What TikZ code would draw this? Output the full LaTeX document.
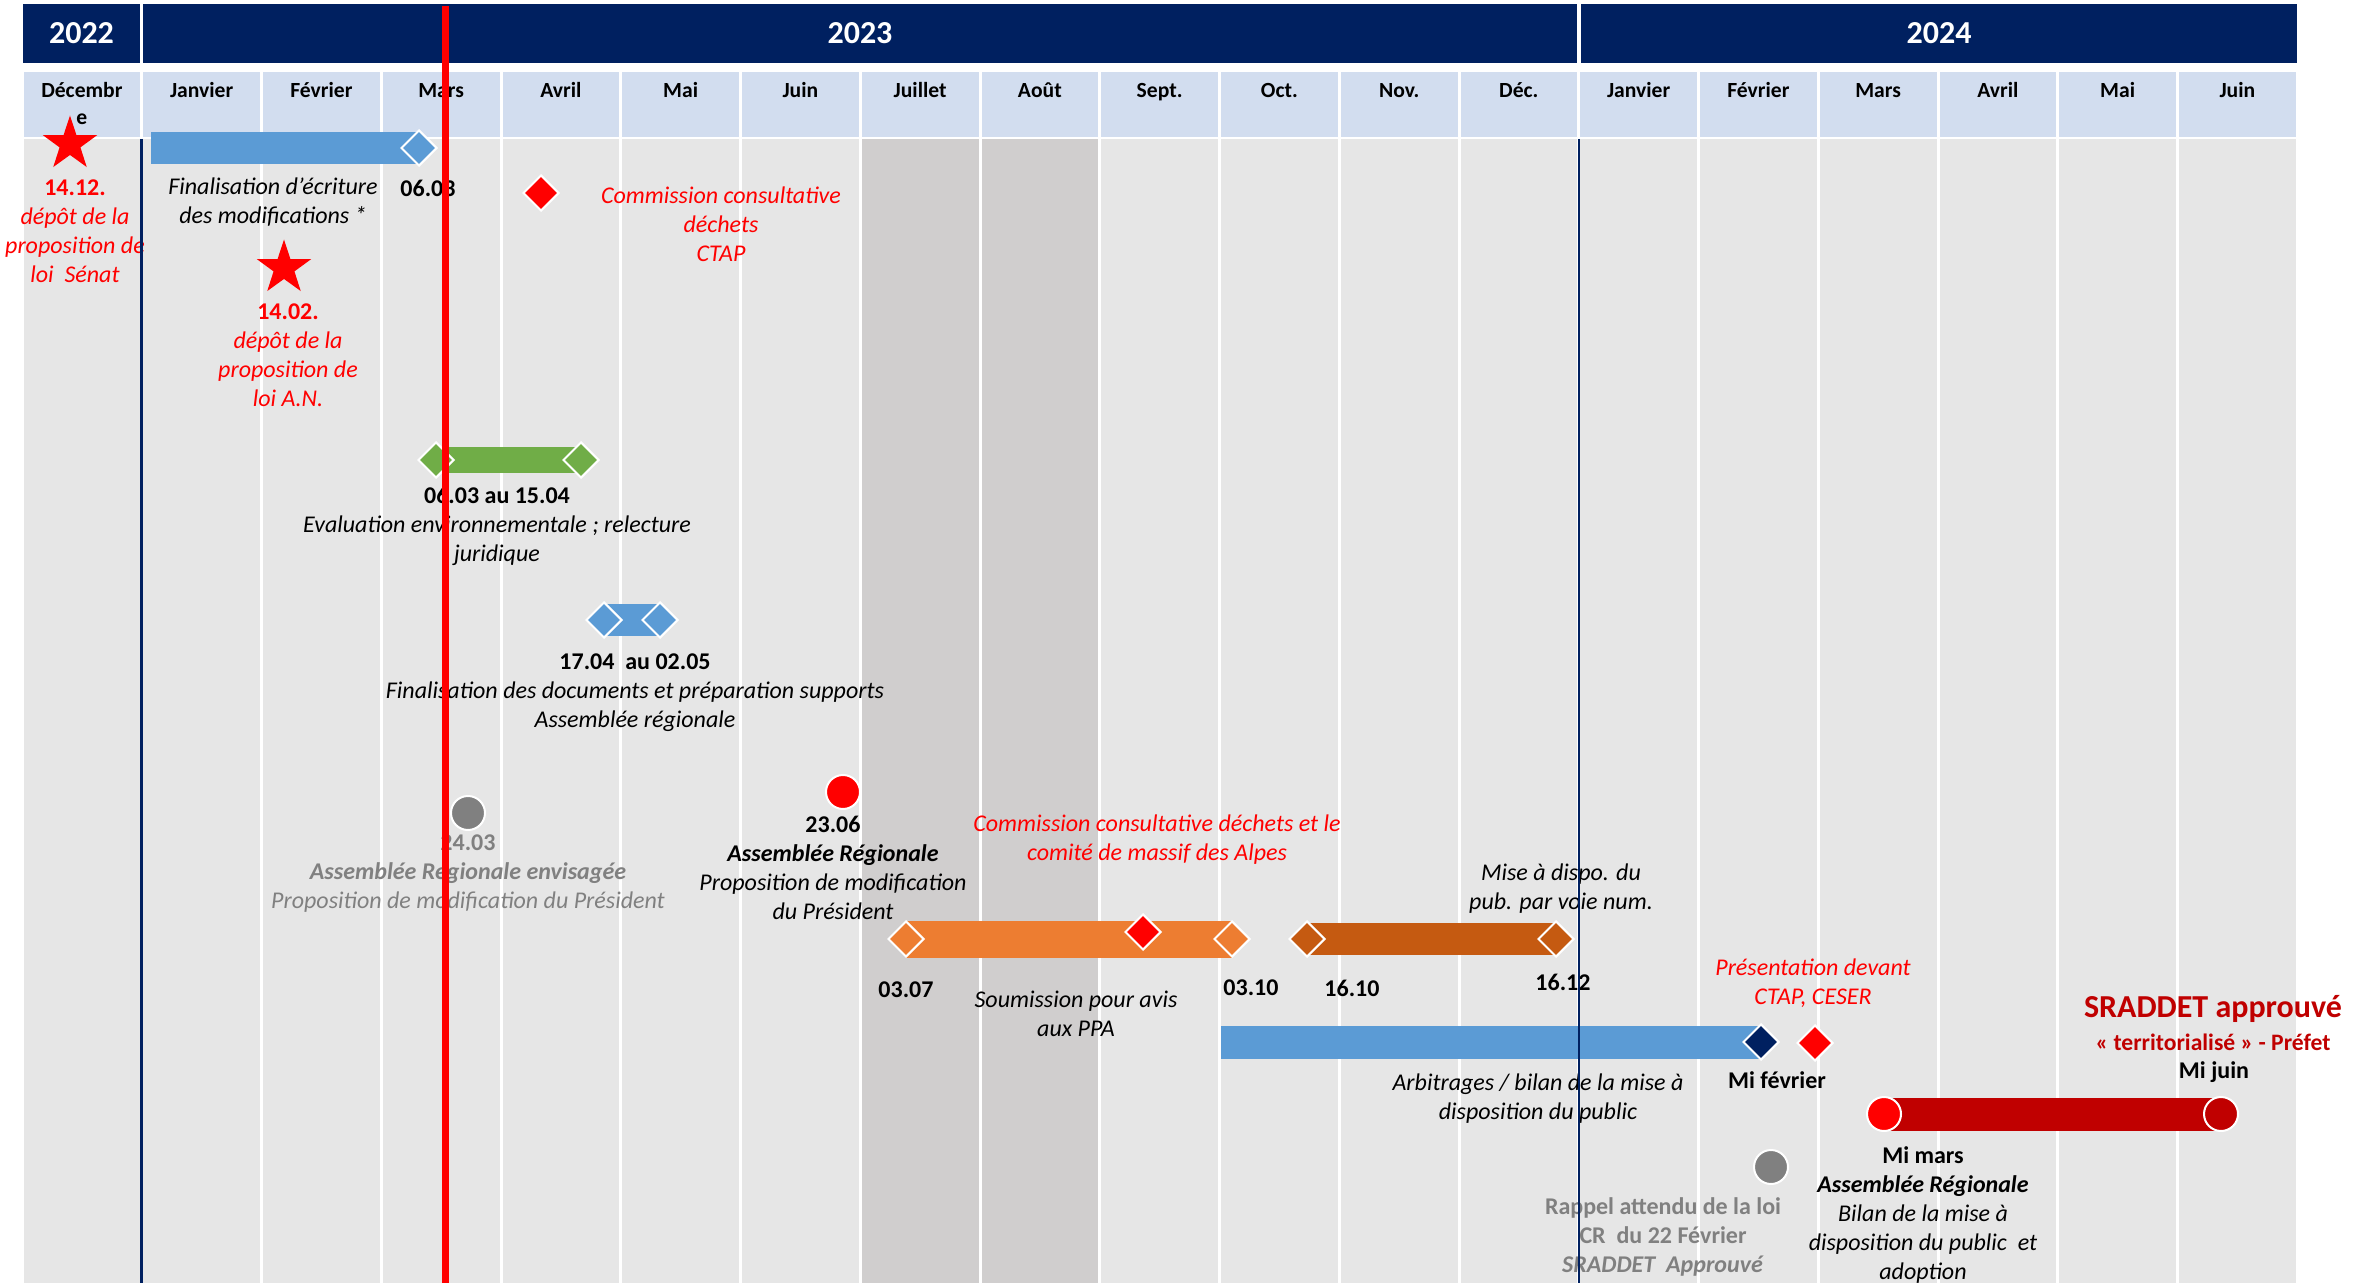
\documentclass[tikz,border=0pt]{standalone}
\usepackage{fontspec}
\setmainfont{Carlito}
\usetikzlibrary{shapes.geometric}

\definecolor{navy}{HTML}{002060}
\definecolor{monthblue}{HTML}{D2DDEF}
\definecolor{cellgray}{HTML}{E6E6E6}
\definecolor{summergray}{HTML}{D0CECE}
\definecolor{barblue}{HTML}{5B9BD5}
\definecolor{bargreen}{HTML}{70AD47}
\definecolor{barorange}{HTML}{ED7D31}
\definecolor{darkorange}{HTML}{C55A11}
\definecolor{darkred}{HTML}{C00000}
\definecolor{txtgray}{HTML}{808080}

\pgfdeclarelayer{grid}
\pgfdeclarelayer{bars}
\pgfdeclarelayer{front}
\pgfsetlayers{grid,bars,main,front}

\def\xo{22}
\def\colw{119.75}

\tikzset{
  evlabel/.style={align=center, inner sep=0pt, font=\fontsize{12}{14.5}\selectfont},
  evdate/.style={evlabel, font=\fontsize{12}{14.5}\selectfont\bfseries},
  evnote/.style={evlabel, font=\fontsize{12}{14.5}\selectfont\itshape},
  monthlbl/.style={align=center, inner sep=0pt, anchor=base, font=\fontsize{10.8}{13.5}\selectfont\bfseries},
  yearlbl/.style={inner sep=0pt, text=white, font=\fontsize{16}{19}\selectfont\bfseries},
  milestone/.style={diamond, aspect=1, inner sep=0pt, minimum width=18pt, minimum height=18pt, draw=white, line width=1pt},
  evdot/.style={circle, inner sep=0pt, minimum size=17pt, draw=white, line width=1pt},
  redstar/.style={star, star points=5, star point ratio=2.6, minimum size=28.5pt, inner sep=0pt, fill=red},
}

\begin{document}
\begin{tikzpicture}[x=0.5pt, y=-0.5pt]
  \useasboundingbox (0,0) rectangle (2372,1283);
  \begin{pgfonlayer}{grid}
    \fill[navy] (23,4) rectangle (140,63);
    \fill[navy] (143,4) rectangle (1577,63);
    \fill[navy] (1581,4) rectangle (2297,63);
    \foreach \k in {0,...,18} {
      \fill[monthblue] ({\xo+\colw*\k+1.5},72) rectangle ({\xo+\colw*(\k+1)-1.5},137);
      \fill[cellgray] ({\xo+\colw*\k+1.5},139) rectangle ({\xo+\colw*(\k+1)-1.5},1283);
    }
    \foreach \k in {7,8}
      \fill[summergray] ({\xo+\colw*\k+1.5},139) rectangle ({\xo+\colw*(\k+1)-1.5},1283);
  \end{pgfonlayer}

  \node[yearlbl] (y22) at (81.5,33) {2022};
  \node[yearlbl] (y23) at (860,33) {2023};
  \node[yearlbl] (y24) at (1939,33) {2024};
  \node[monthlbl] (m0) at ({\xo+\colw*0.5},125) {Décembr\\e};
  \foreach \m [count=\k from 1] in {Janvier,Février,Mars,Avril,Mai,Juin,Juillet,Août,Sept.,Oct.,Nov.,Déc.,Janvier,Février,Mars,Avril,Mai,Juin}
    \node[monthlbl] (m\k) at ({\xo+\colw*(\k+0.5)},98) {\m};

  \node[redstar] (starS) at (70,144) {};
  \node[evnote, text=red] (starST) at (75,231) {\textup{\bfseries 14.12.}\\dépôt de la\\proposition de\\loi\ \ Sénat};
  \node[redstar] (starAN) at (284,268) {};
  \node[evnote, text=red] (starANT) at (288,355) {\textup{\bfseries 14.02.}\\dépôt de la\\proposition de\\loi A.N.};

  \coordinate (finA) at (151,148);
  \node[milestone, fill=barblue] (finB) at (419,148) {};
  \node[evnote] (finT) at (273,202) {Finalisation d’écriture\\des modifications *};
  \node[evdate] (finD) at (428,188) {06.03};

  \node[milestone, fill=red] (ctap1) at (541,193) {};
  \node[evnote, text=red] (ctap1T) at (721,224) {Commission consultative\\déchets\\CTAP};

  \node[milestone, fill=bargreen] (evalA) at (436,460) {};
  \node[milestone, fill=bargreen] (evalB) at (581,460) {};
  \node[evnote] (evalT) at (497,526) {\textup{\bfseries 06.03 au 15.04}\\Evaluation environnementale ; relecture\\juridique};

  \node[milestone, fill=barblue] (docA) at (604,620) {};
  \node[milestone, fill=barblue] (docB) at (660,620) {};
  \node[evnote] (docT) at (635,693) {\textup{\bfseries 17.04\ \ au 02.05}\\Finalisation des documents et préparation supports\\Assemblée régionale};

  \node[evdot, fill=txtgray] (arOld) at (468,813) {};
  \node[evnote, text=txtgray] (arOldT) at (468,874) {\textup{\bfseries 24.03}\\\textbf{Assemblée Régionale envisagée}\\Proposition de modification du Président};

  \node[evdot, fill=red] (ar) at (843,792) {};
  \node[evnote] (arT) at (833,868) {\textup{\bfseries 23.06}\\\textbf{Assemblée Régionale}\\Proposition de modification\\du Président};

  \node[milestone, fill=barorange] (ppaA) at (906,939) {};
  \node[milestone, fill=red] (ppaM) at (1143,932) {};
  \node[milestone, fill=barorange] (ppaB) at (1232,939) {};
  \node[evdate] (ppaAD) at (906,990) {03.07};
  \node[evdate] (ppaBD) at (1251,988) {03.10};
  \node[evnote] (ppaT) at (1076,1014) {Soumission pour avis\\aux PPA};
  \node[evnote, text=red] (ppaMT) at (1157,840) {Commission consultative déchets et le\\comité de massif des Alpes};

  \node[milestone, fill=darkorange] (pubA) at (1307,939) {};
  \node[milestone, fill=darkorange] (pubB) at (1556,939) {};
  \node[evdate] (pubAD) at (1352,988) {16.10};
  \node[evdate] (pubBD) at (1563,982) {16.12};
  \node[evnote] (pubT) at (1561,889) {Mise à dispo. du\\pub. par voie num.};

  \coordinate (arbA) at (1221,1042);
  \node[milestone, fill=navy] (arbB) at (1761,1042) {};
  \node[milestone, fill=red] (ctap2) at (1815,1043) {};
  \node[evdate] (arbD) at (1777,1080) {Mi février};
  \node[evnote] (arbT) at (1538,1099) {Arbitrages / bilan de la mise à\\disposition du public};
  \node[evnote, text=red] (ctap2T) at (1813,983) {Présentation devant\\CTAP, CESER};

  \node[evdot, fill=txtgray] (loi) at (1771,1167) {};
  \node[evdate, text=txtgray] (loiT) at (1663,1237) {Rappel attendu de la loi\\CR\ \ du 22 Février\\\textit{SRADDET\ \ Approuvé}};

  \node[evdot, fill=red] (apA) at (1884,1114) {};
  \node[evdot, fill=darkred] (apB) at (2221,1114) {};
  \node[evdate] (apBD) at (2214,1072) {Mi juin};
  \node[evnote] (apAT) at (1923,1215) {\textup{\bfseries Mi mars}\\\textbf{Assemblée Régionale}\\Bilan de la mise à\\disposition du public\ \ et\\adoption};
  \node[evlabel, text=darkred, font=\fontsize{16}{19}\selectfont\bfseries] (apT) at (2213,1009) {SRADDET approuvé};
  \node[evlabel, text=darkred, font=\fontsize{11.8}{14}\selectfont\bfseries] (apS) at (2213,1042) {«~territorialisé~» - Préfet};

  \begin{pgfonlayer}{bars}
    \draw[barblue, line width=16pt] (finA) -- (finB.center);
    \draw[bargreen, line width=13pt] (evalA.center) -- (evalB.center);
    \draw[barblue, line width=16pt] (docA.center) -- (docB.center);
    \draw[barorange, line width=18.5pt] (ppaA.center) -- (ppaB.center);
    \draw[darkorange, line width=16pt] (pubA.center) -- (pubB.center);
    \draw[barblue, line width=16.5pt] (arbA) -- (arbB.center);
    \draw[darkred, line width=16.5pt] (apA.center) -- (apB.center);
  \end{pgfonlayer}

  \begin{pgfonlayer}{front}
    \draw[navy, line width=1.25pt] (141.5,139) -- (141.5,1283);
    \draw[navy, line width=1.25pt] (1579,139) -- (1579,1283);
    \draw[red, line width=3.5pt] (445,6) -- (445,1283);
  \end{pgfonlayer}
\end{tikzpicture}
\end{document}
